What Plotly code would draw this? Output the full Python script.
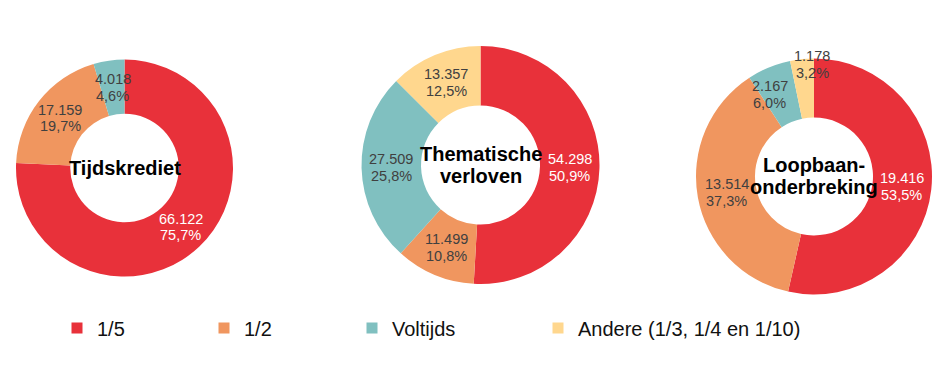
import math
import plotly.graph_objects as go

# ---------------- data ----------------
categories = ["1/5", "1/2", "Voltijds", "Andere (1/3, 1/4 en 1/10)"]
chart_titles = [["Tijdskrediet"], ["Thematische", "verloven"], ["Loopbaan-", "onderbreking"]]
tijdskrediet = [66122, 17159, 4018, 0]
thematische_verloven = [54298, 11499, 27509, 13357]
loopbaanonderbreking = [19416, 13514, 2167, 1178]
series = [tijdskrediet, thematische_verloven, loopbaanonderbreking]

# ---------------- styling / layout ----------------
W, H = 945, 388
colors = ["#E8313A", "#F0965F", "#80C0C0", "#FFD78E"]
label_colors = ["#FFFFFF", "#404040", "#404040", "#404040"]
FONT = "Liberation Sans, Arial, sans-serif"
HOLE = 0.5
# pie centres and radii in pixels
pie_geo = [(124.5, 168.0, 108.5), (480.5, 165.0, 119.0), (814.0, 176.5, 118.0)]
# manual label nudges (radius factor, angle offset in degrees), like the original
label_nudge = {(2, 2): (0.79, -6.0), (2, 3): (0.95, 5.0)}


def fmt_int(v):
    return f"{v:,}".replace(",", ".")


def fmt_pct(p):
    return f"{p:.1f}".replace(".", ",") + "%"


fig = go.Figure()
annotations = []

for k, vals in enumerate(series):
    cx, cy, r = pie_geo[k]
    fig.add_trace(go.Pie(
        labels=categories,
        values=vals,
        hole=HOLE,
        sort=False,
        direction="clockwise",
        rotation=0,
        marker=dict(colors=colors, line=dict(width=0)),
        textinfo="none",
        hoverinfo="none",
        showlegend=False,
        domain=dict(x=[(cx - r) / W, (cx + r) / W], y=[1 - (cy + r) / H, 1 - (cy - r) / H]),
    ))
    total = sum(vals)
    cum = 0.0
    for i, v in enumerate(vals):
        if v <= 0:
            continue
        f = v / total
        mid = cum + f / 2
        cum += f
        rf, dang = label_nudge.get((k, i), (0.75, 0.0))
        th = 2 * math.pi * mid + math.radians(dang)
        px = cx + r * rf * math.sin(th)
        py = cy - r * rf * math.cos(th)
        for line, shift in ((fmt_int(v), 8.3), (fmt_pct(100 * f), -8.3)):
            annotations.append(dict(
                x=px / W, y=1 - py / H, xref="paper", yref="paper",
                text=line, showarrow=False, yshift=shift,
                xanchor="center", yanchor="middle",
                font=dict(family=FONT, size=14.5, color=label_colors[i]),
            ))
    lines = chart_titles[k]
    n = len(lines)
    for j, t in enumerate(lines):
        shift = ((n - 1) / 2 - j) * 22
        annotations.append(dict(
            x=cx / W, y=1 - cy / H, xref="paper", yref="paper",
            text=f"<b>{t}</b>", showarrow=False, yshift=shift,
            xanchor="center", yanchor="middle",
            font=dict(family=FONT, size=20, color="#000000"),
        ))

# legend: one dummy trace per category, each in its own legend
legend_names = ["legend", "legend2", "legend3", "legend4"]
legend_x = [57, 204, 352, 538]
for i, cat in enumerate(categories):
    fig.add_trace(go.Scatter(
        x=[None], y=[None], mode="markers", name=cat,
        marker=dict(symbol="square", size=11, color=colors[i]),
        legend=legend_names[i], showlegend=True, hoverinfo="none",
    ))

layout_legends = {}
for i, ln in enumerate(legend_names):
    layout_legends[ln] = dict(
        x=legend_x[i] / W, y=1 - 328 / H, xanchor="left", yanchor="middle",
        orientation="h", bgcolor="rgba(0,0,0,0)", borderwidth=0,
        font=dict(family=FONT, size=20, color="#111111"),
    )

fig.update_layout(
    width=W, height=H,
    margin=dict(l=0, r=0, t=0, b=0),
    paper_bgcolor="white", plot_bgcolor="white",
    xaxis=dict(visible=False), yaxis=dict(visible=False),
    annotations=annotations,
    **layout_legends,
)

fig.write_html("out.html")
